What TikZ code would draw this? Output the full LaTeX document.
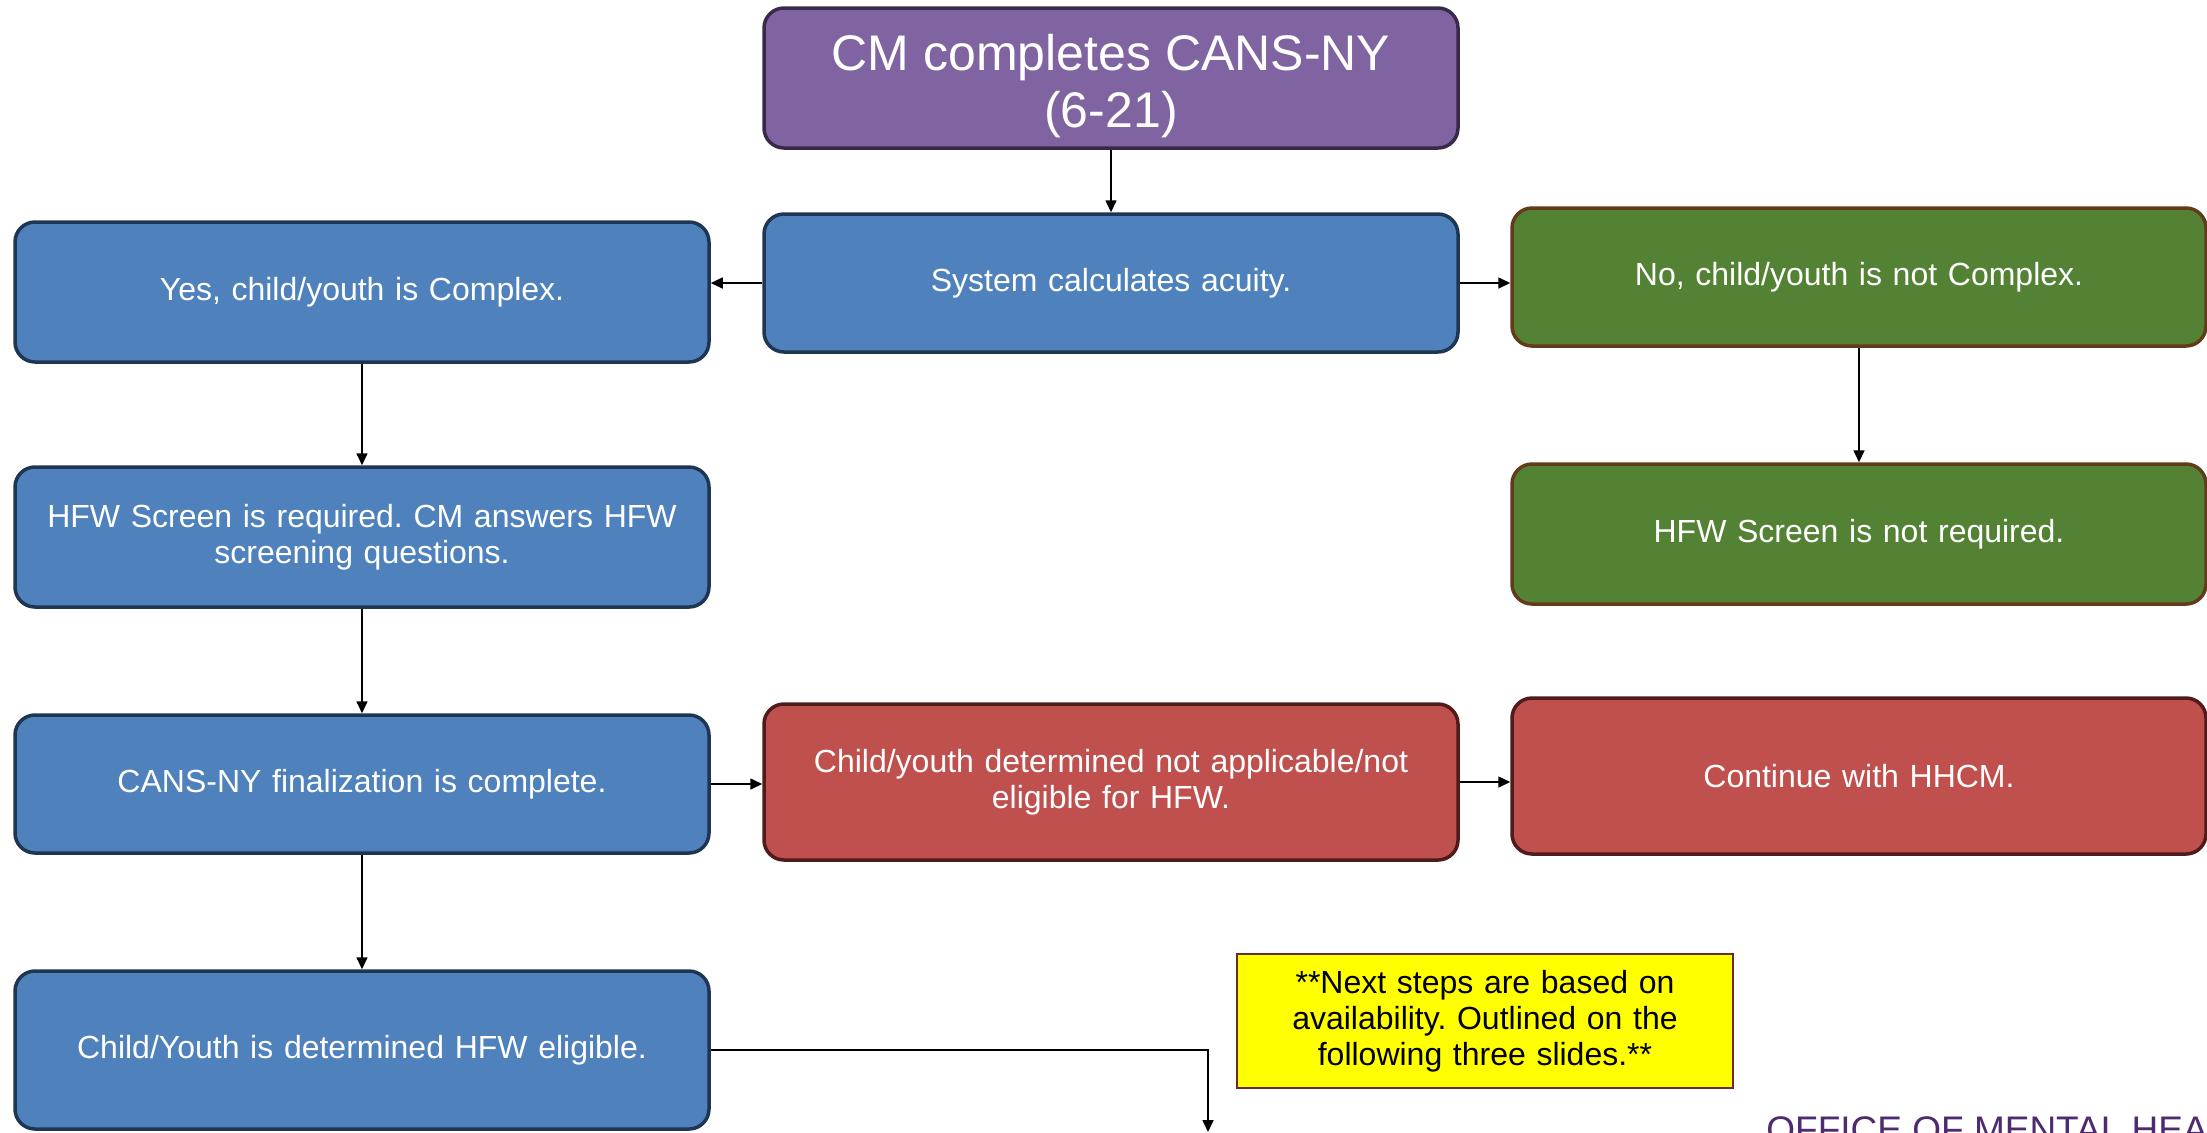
\documentclass[tikz,border=0pt]{standalone}
\usepackage{fontspec}
\setmainfont{Liberation Sans}
\usetikzlibrary{arrows.meta}
\definecolor{bluefill}{HTML}{4F81BD}
\definecolor{blueline}{HTML}{1F3652}
\definecolor{greenfill}{HTML}{548235}
\definecolor{greenline}{HTML}{633B1A}
\definecolor{redfill}{HTML}{C0504D}
\definecolor{redline}{HTML}{4F1B1B}
\definecolor{purplefill}{HTML}{8064A2}
\definecolor{purpleline}{HTML}{3A2A4A}
\definecolor{officetext}{HTML}{4E2A6E}
\definecolor{noteline}{HTML}{6B2A2A}
\definecolor{notefill}{HTML}{FFFF00}
\frenchspacing
\begin{document}
\frenchspacing
\begin{tikzpicture}[x=0.5pt,y=-0.5pt,
  box/.style={rectangle, rounded corners=10pt, line width=1.75pt, minimum width=347pt,
    text width=330pt, align=center, text=white, font=\fontsize{16}{18}\selectfont\frenchspacing},
  bluebox/.style={box, fill=bluefill, draw=blueline},
  greenbox/.style={box, fill=greenfill, draw=greenline},
  redbox/.style={box, fill=redfill, draw=redline},
  titlebox/.style={box, fill=purplefill, draw=purpleline},
  titletext/.style={text=white, align=center, inner sep=0pt, font=\fontsize{25}{28.5}\selectfont},
  notebox/.style={rectangle, fill=notefill, draw=noteline, line width=0.7pt, minimum width=248pt,
    minimum height=67pt, text width=240pt, align=center, text=black, font=\fontsize{16}{18}\selectfont\frenchspacing},
  conn/.style={line width=0.8pt, draw=black, -{Triangle[length=6pt,width=5.5pt]}}]
\path[use as bounding box] (0,0) rectangle (2207,1132);
\clip (0,0) rectangle (2207,1132);

\node[titlebox, minimum height=70pt] (top) at (1111,78) {};
\node[titletext] (toptext) at (1111,86) {CM completes CANS-NY\\(6-21)};
\node[bluebox, minimum height=69pt] (sys) at (1111,283) {System calculates acuity.};
\node[bluebox, minimum height=70pt] (yes) at (362,292) {Yes, child/youth is Complex.};
\node[greenbox, minimum height=69pt] (no) at (1859,277) {No, child/youth is not Complex.};
\node[bluebox, minimum height=70pt] (hfwreq) at (362,537) {HFW Screen is required. CM answers HFW\\screening questions.};
\node[greenbox, minimum height=70pt] (hfwnot) at (1859,534) {HFW Screen is not required.};
\node[bluebox, minimum height=69pt] (cans) at (362,784) {CANS-NY finalization is complete.};
\node[redbox, minimum height=78pt] (notapp) at (1111,782) {Child/youth determined not applicable/not\\eligible for HFW.};
\node[redbox, minimum height=78pt] (cont) at (1859,776) {Continue with HHCM.};
\node[bluebox, minimum height=79pt] (elig) at (362,1050) {Child/Youth is determined HFW eligible.};
\node[notebox] (note) at (1485,1021) {**Next steps are based on\\availability. Outlined on the\\following three slides.**};
\node[anchor=base west, inner sep=0pt, text=officetext, font=\fontsize{18.5}{20}\selectfont] (office) at (1766,1142) {OFFICE OF MENTAL HEALTH};

\coordinate (bot) at (1208,1132);

\draw[conn] (top.south) -- (sys.north);
\draw[conn] (sys.west) -- (sys.west -| yes.east);
\draw[conn] (sys.east) -- (sys.east -| no.west);
\draw[conn] (yes.south) -- (hfwreq.north);
\draw[conn] (hfwreq.south) -- (cans.north);
\draw[conn] (cans.south) -- (elig.north);
\draw[conn] (no.south) -- (hfwnot.north);
\draw[conn] (cans.east) -- (cans.east -| notapp.west);
\draw[conn] (notapp.east) -- (notapp.east -| cont.west);
\draw[conn] (elig.east) -- (elig.east -| bot) -- (bot);
\end{tikzpicture}
\end{document}
